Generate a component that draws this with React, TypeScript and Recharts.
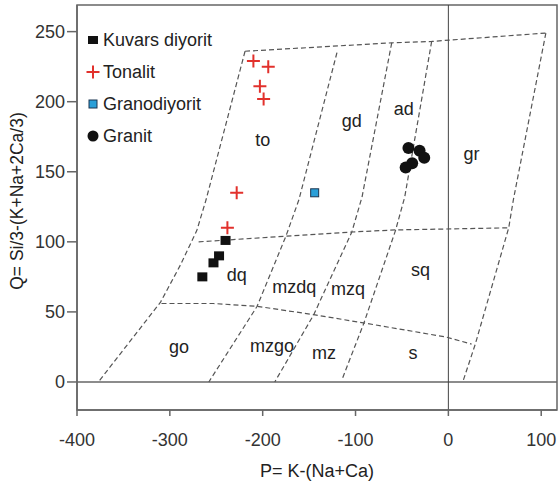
import {
    Legend,
    ReferenceArea,
    ReferenceLine,
    Scatter,
    ScatterChart,
    XAxis,
    YAxis,
} from 'recharts';

const xTicks = [-400, -300, -200, -100, 0, 100];
const yTicks = [0, 50, 100, 150, 200, 250];

const legendNames = ['Kuvars diyorit', 'Tonalit', 'Granodiyorit', 'Granit'];

// sample points (P, Q)
const kuvarsDiyorit = [
    { x: -240, y: 101 },
    { x: -247, y: 90 },
    { x: -253, y: 85 },
    { x: -265, y: 75 },
];
const tonalit = [
    { x: -210, y: 229 },
    { x: -194, y: 225 },
    { x: -203, y: 211 },
    { x: -199, y: 202 },
    { x: -228, y: 135 },
    { x: -238, y: 110 },
];
const granodiyorit = [{ x: -144, y: 135 }];
const granit = [
    { x: -43, y: 167 },
    { x: -31, y: 165 },
    { x: -26, y: 160 },
    { x: -39, y: 156 },
    { x: -46, y: 153 },
];

// field boundaries of the P-Q diagram
const topLine = [
    { x: -219, y: 236 },
    { x: -61, y: 242 },
    { x: -18, y: 243 },
    { x: 105, y: 249 },
];
const line1 = [
    { x: -219, y: 236 },
    { x: -261, y: 130 },
    { x: -271, y: 108 },
    { x: -289, y: 83 },
    { x: -310, y: 57 },
    { x: -377, y: 0 },
];
const line2 = [
    { x: -120, y: 235 },
    { x: -161, y: 130 },
    { x: -175, y: 104 },
    { x: -206, y: 54 },
    { x: -258, y: 0 },
];
const line3 = [
    { x: -61, y: 242 },
    { x: -93, y: 132 },
    { x: -104, y: 107 },
    { x: -145, y: 48 },
    { x: -187, y: 0 },
];
const line4 = [
    { x: -18, y: 243 },
    { x: -47, y: 132 },
    { x: -57, y: 108 },
    { x: -91, y: 42 },
    { x: -115, y: 1 },
];
const line5 = [
    { x: 105, y: 249 },
    { x: 70, y: 130 },
    { x: 65, y: 110 },
    { x: 29, y: 27 },
    { x: 16, y: 1 },
];
const midLine = [
    { x: -269, y: 100 },
    { x: -175, y: 104 },
    { x: -104, y: 107 },
    { x: -57, y: 108.5 },
    { x: 65, y: 110 },
];
const lowLine = [
    { x: -309, y: 56 },
    { x: -253, y: 56 },
    { x: -206, y: 54 },
    { x: -145, y: 48 },
    { x: -90, y: 42 },
    { x: -2, y: 32 },
    { x: 25, y: 27 },
];
const boundaries = [topLine, line1, line2, line3, line4, line5, midLine, lowLine];

const regionLabels = [
    { x: -200, y: 173, text: 'to' },
    { x: -104, y: 186, text: 'gd' },
    { x: -48, y: 195, text: 'ad' },
    { x: 25, y: 163, text: 'gr' },
    { x: -228, y: 76, text: 'dq' },
    { x: -166, y: 68, text: 'mzdq' },
    { x: -108, y: 66, text: 'mzq' },
    { x: -30, y: 80, text: 'sq' },
    { x: -290, y: 25, text: 'go' },
    { x: -190, y: 26, text: 'mzgo' },
    { x: -134, y: 21, text: 'mz' },
    { x: -38, y: 21, text: 's' },
];

const FONT = '"Liberation Sans", Arial, sans-serif';
const AXIS = { stroke: '#666', strokeWidth: 1.5 };
const DASH = { stroke: '#555', strokeWidth: 1.2, strokeDasharray: '5 3' };

function NoDot() {
    return <g />;
}

function BlackSquare({ cx, cy }: any) {
    return <rect x={cx - 5} y={cy - 4.5} width={10} height={9} fill="#111" />;
}

function RedPlus({ cx, cy }: any) {
    return (
        <path
            d={`M${cx - 6.5},${cy}H${cx + 6.5}M${cx},${cy - 6.5}V${cy + 6.5}`}
            stroke="#e2312c"
            strokeWidth={2}
            fill="none"
        />
    );
}

function BlueSquare({ cx, cy }: any) {
    return <rect x={cx - 4} y={cy - 4} width={8} height={8} fill="#2a9fd8" stroke="#1b3550" strokeWidth={1} />;
}

function BlackCircle({ cx, cy }: any) {
    return <circle cx={cx} cy={cy} r={6} fill="#111" />;
}

function RegionLabel({ cx, cy, payload }: any) {
    return (
        <text x={cx} y={cy} textAnchor="middle" dominantBaseline="central" fontSize={18} fill="#222" fontFamily={FONT}>
            {payload.text}
        </text>
    );
}

const legendIcons = [
    <rect x={4} y={5} width={10} height={8} fill="#111" />,
    <path d="M2.5,9H15.5M9,2.5V15.5" stroke="#e2312c" strokeWidth={2} />,
    <rect x={5} y={5} width={8} height={8} fill="#2a9fd8" stroke="#1b3550" strokeWidth={1} />,
    <circle cx={9} cy={9} r={5.5} fill="#111" />,
];

function LegendBox() {
    return (
        <div style={{ fontFamily: FONT, fontSize: 18, color: '#222' }}>
            {legendNames.map((name, i) => (
                <div key={name} style={{ display: 'flex', alignItems: 'center', height: 32 }}>
                    <svg width={18} height={18}>{legendIcons[i]}</svg>
                    <span style={{ marginLeft: 1 }}>{name}</span>
                </div>
            ))}
        </div>
    );
}

function XTitle() {
    return (
        <text x={317} y={477} textAnchor="middle" fontSize={18} fill="#222" fontFamily={FONT}>
            P= K-(Na+Ca)
        </text>
    );
}

function YTitle() {
    return (
        <text
            x={17}
            y={201}
            transform="rotate(-90 17 201)"
            textAnchor="middle"
            dominantBaseline="central"
            fontSize={17.5}
            fill="#222"
            fontFamily={FONT}
        >
            Q= Si/3-(K+Na+2Ca/3)
        </text>
    );
}

export default function App() {
    return (
        <div style={{ position: 'absolute', left: 0, top: 0, background: '#fff' }}>
            <ScatterChart width={559} height={486} margin={{ top: 5, right: 2, bottom: 0, left: 0 }}>
                <XAxis
                    type="number"
                    dataKey="x"
                    domain={[-400, 117]}
                    ticks={xTicks}
                    interval={0}
                    allowDataOverflow
                    height={76}
                    tickSize={6}
                    tickMargin={17}
                    axisLine={AXIS}
                    tickLine={AXIS}
                    tick={{ fontSize: 18, fill: '#333', fontFamily: FONT }}
                    label={{ content: XTitle }}
                />
                <YAxis
                    type="number"
                    dataKey="y"
                    domain={[-20, 269]}
                    ticks={yTicks}
                    interval={0}
                    allowDataOverflow
                    width={77}
                    tickSize={10}
                    tickMargin={2}
                    axisLine={AXIS}
                    tickLine={AXIS}
                    tick={{ fontSize: 18, fill: '#333', fontFamily: FONT }}
                    label={{ content: YTitle }}
                />
                <ReferenceArea x1={-400} x2={117} y1={-20} y2={269} fill="none" stroke="#666" strokeWidth={1.5} fillOpacity={0} />
                <ReferenceLine y={0} stroke="#666" strokeWidth={1.5} />
                <ReferenceLine x={0} stroke="#444" strokeWidth={1} />
                {boundaries.map((pts, i) => (
                    <Scatter
                        key={i}
                        data={pts}
                        line={DASH}
                        shape={NoDot}
                        legendType="none"
                        isAnimationActive={false}
                    />
                ))}
                <Scatter data={regionLabels} shape={RegionLabel} legendType="none" isAnimationActive={false} />
                <Scatter name="Kuvars diyorit" data={kuvarsDiyorit} shape={BlackSquare} isAnimationActive={false} />
                <Scatter name="Tonalit" data={tonalit} shape={RedPlus} isAnimationActive={false} />
                <Scatter name="Granodiyorit" data={granodiyorit} shape={BlueSquare} isAnimationActive={false} />
                <Scatter name="Granit" data={granit} shape={BlackCircle} isAnimationActive={false} />
                <Legend
                    layout="vertical"
                    align="center"
                    verticalAlign="middle"
                    content={LegendBox}
                    wrapperStyle={{ left: 84, top: 24, width: 'auto', height: 'auto' }}
                />
            </ScatterChart>
        </div>
    );
}
